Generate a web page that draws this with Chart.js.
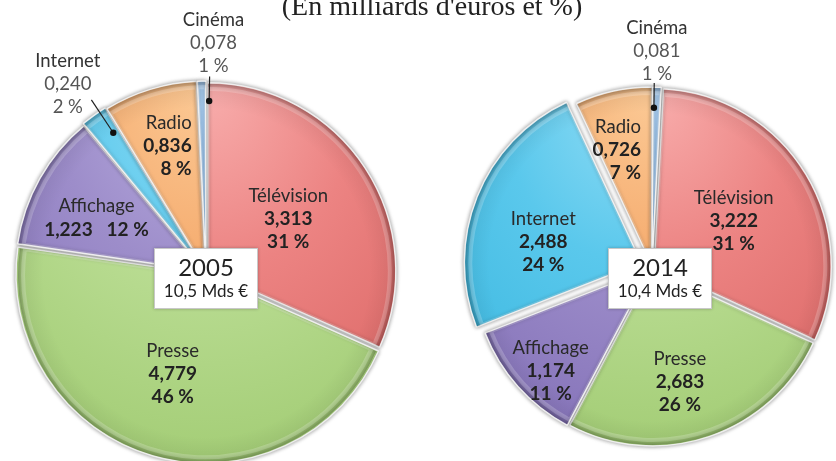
<!DOCTYPE html>
<html>
<head>
<meta charset="utf-8">
<script src="https://cdn.jsdelivr.net/npm/chart.js@4.4.0/dist/chart.umd.min.js"></script>
<style>
html, body { margin: 0; padding: 0; background: #fff; }
#wrap { position: relative; width: 836px; height: 461px; overflow: hidden; }
canvas { position: absolute; top: 0; }
.title { position: absolute; left: 0; width: 864px; top: -8px; text-align: center;
  font: 28px "Liberation Serif", serif; line-height: 28px; color: #222; z-index: 2; }
.box { position: absolute; top: 248px; width: 102px; height: 59px; background: #fff;
  border: 1px solid #c8c8c8; box-shadow: 0 0 3px rgba(0,0,0,0.25); font-family: Lato, sans-serif;
  color: #222; text-align: center; z-index: 2; }
.box .y { position: absolute; left: 0; right: 0; top: 4px; font-size: 24px; line-height: 28px; }
.box .t { position: absolute; left: 0; right: 0; top: 31px; font-size: 17px; line-height: 22px; }
</style>
</head>
<body>
<div id="wrap">
  <div class="title">(En milliards d'euros et %)</div>
  <canvas id="pie2005" width="412" height="544" style="left:0px"></canvas>
  <canvas id="pie2014" width="400" height="534" style="left:452px"></canvas>
  <div class="box" id="box2005" style="left:154px"><div class="y"></div><div class="t"></div></div>
  <div class="box" id="box2014" style="left:608px"><div class="y"></div><div class="t"></div></div>
</div>
<script>
var categories = ['Télévision', 'Presse', 'Affichage', 'Internet', 'Radio', 'Cinéma'];
var values2005 = [3.313, 4.779, 1.223, 0.240, 0.836, 0.078];
var percent2005 = [31, 46, 12, 2, 8, 1];
var values2014 = [3.222, 2.683, 1.174, 2.488, 0.726, 0.081];
var percent2014 = [31, 26, 11, 24, 7, 1];
var years = ['2005', '2014'];
var totals = ['10,5 Mds €', '10,4 Mds €'];

// base, light, dark
var colors = [
  ['#ec8382', '#f7aaa9', '#dc6866'],
  ['#b9dc92', '#d6edb9', '#a2cc74'],
  ['#9d8dca', '#b9ade0', '#8472b8'],
  ['#5ac8ec', '#90dcf5', '#3cb8e0'],
  ['#f5ab6e', '#fbc792', '#ec9852'],
  ['#7eb2e6', '#a8cdf1', '#5f9ad8']
];

// label placement along each slice's middle angle
var layout2005 = [
  { r: 0.52, turn: 0.3 },
  { r: 0.57, turn: 2 },
  { r: 0.65, turn: -3, inline: true },
  { r: 1.24, turn: -0.8, outside: true, dot: [0.89, 1.1, 1.9] },
  { r: 0.70, turn: 0, align: 'right' },
  { r: 1.22, turn: 3.2, outside: true, dot: [0.91, 1.04, 2.4] }
];
var layout2014 = [
  { r: 0.53, turn: 1.6 },
  { r: 0.67, turn: 5 },
  { r: 0.82, turn: -4 },
  { r: 0.63, turn: -9 },
  { r: 0.69, turn: -4.4, align: 'right' },
  { r: 1.22, turn: -0.3, outside: true, dot: [0.9, 1.04, -0.9] }
];

function fmt(v) { return v.toFixed(3).replace('.', ','); }

function fill(radius) {
  return function (c) {
    var col = colors[c.dataIndex];
    var a = c.chart.chartArea;
    if (!a) return col[0];
    var cx = (a.left + a.right) / 2, cy = (a.top + a.bottom) / 2;
    var g = c.chart.ctx.createRadialGradient(cx, cy - radius * 0.95, radius * 0.05, cx, cy - radius * 0.5, radius * 1.6);
    g.addColorStop(0, col[1]);
    g.addColorStop(0.45, col[0]);
    g.addColorStop(1, col[2]);
    return g;
  };
}

// same shift Chart.js applies to an offset arc
function arcShift(arc) {
  var off = (arc.options.offset || 0) / 4;
  var circ = arc.endAngle - arc.startAngle;
  var fix = 1 - Math.sin(Math.min(Math.PI, circ || 0));
  var d = off + off * fix;
  var h = (arc.startAngle + arc.endAngle) / 2;
  return [Math.cos(h) * d, Math.sin(h) * d];
}

function labelPlugin(values, percents, layout) {
  return {
    id: 'sliceLabels',
    beforeDatasetsDraw: function (chart) {
      var ctx = chart.ctx;
      ctx.save();
      ctx.shadowColor = 'rgba(0,0,0,0.4)';
      ctx.shadowBlur = 4;
    },
    afterDatasetsDraw: function (chart) {
      var ctx = chart.ctx;
      ctx.restore();
      var meta = chart.getDatasetMeta(0);
      // rim shading and bevel
      meta.data.forEach(function (arc) {
        var s = arcShift(arc);
        var R = arc.outerRadius;
        ctx.save();
        ctx.translate(s[0], s[1]);
        ctx.beginPath();
        ctx.moveTo(arc.x, arc.y);
        ctx.arc(arc.x, arc.y, R - 1, arc.startAngle, arc.endAngle);
        ctx.closePath();
        var g = ctx.createRadialGradient(arc.x, arc.y, R * 0.86, arc.x, arc.y, R);
        g.addColorStop(0, 'rgba(0,0,0,0)');
        g.addColorStop(0.7, 'rgba(0,0,0,0.05)');
        g.addColorStop(1, 'rgba(0,0,0,0.26)');
        ctx.fillStyle = g;
        ctx.fill();
        ctx.clip();
        ctx.strokeStyle = 'rgba(255,255,255,0.2)';
        ctx.lineWidth = 4;
        ctx.beginPath();
        ctx.moveTo(arc.x, arc.y);
        ctx.arc(arc.x, arc.y, R - 6, arc.startAngle, arc.endAngle);
        ctx.closePath();
        ctx.stroke();
        ctx.restore();
      });
      meta.data.forEach(function (arc, i) {
        var L = layout[i];
        var mid = (arc.startAngle + arc.endAngle) / 2;
        var R = arc.outerRadius;
        var ang = mid + L.turn * Math.PI / 180;
        var x = arc.x + Math.cos(ang) * R * L.r;
        var y = arc.y + Math.sin(ang) * R * L.r;
        var lines;
        if (L.outside) {
          lines = [[categories[i], 'normal', '#333'], [fmt(values[i]), 'normal', '#555'], [percents[i] + ' %', 'normal', '#555']];
        } else if (L.inline) {
          lines = [[categories[i], 'normal', '#2a2a2a'], [fmt(values[i]) + '   ' + percents[i] + ' %', 'bold', '#222']];
        } else {
          lines = [[categories[i], 'normal', '#2a2a2a'], [fmt(values[i]), 'bold', '#222'], [percents[i] + ' %', 'bold', '#222']];
        }
        var lh = 23;
        var top = y - (lines.length - 1) * lh / 2;
        var tx = x;
        ctx.save();
        ctx.textBaseline = 'middle';
        if (L.align === 'right') {
          ctx.textAlign = 'right';
          ctx.font = 'bold 19px Lato';
          tx = x + ctx.measureText(fmt(values[i])).width / 2;
        } else {
          ctx.textAlign = 'center';
        }
        lines.forEach(function (ln, k) {
          ctx.font = ln[1] === 'bold' ? 'bold 19px Lato' : '18.5px Lato';
          ctx.fillStyle = ln[2];
          ctx.fillText(ln[0], tx, top + k * lh);
        });
        if (L.dot) {
          var da = mid + L.dot[2] * Math.PI / 180;
          var x0 = arc.x + Math.cos(da) * R * L.dot[0], y0 = arc.y + Math.sin(da) * R * L.dot[0];
          var x1 = arc.x + Math.cos(da) * R * L.dot[1], y1 = arc.y + Math.sin(da) * R * L.dot[1];
          ctx.strokeStyle = '#222';
          ctx.lineWidth = 1.2;
          ctx.beginPath();
          ctx.moveTo(x1, y1);
          ctx.lineTo(x0, y0);
          ctx.stroke();
          ctx.fillStyle = '#111';
          ctx.beginPath();
          ctx.arc(x0, y0, 3.2, 0, Math.PI * 2);
          ctx.fill();
        }
        ctx.restore();
      });
    }
  };
}

function drawPie(id, values, percents, layout, radius, rotation, offsets) {
  new Chart(document.getElementById(id), {
    type: 'pie',
    data: {
      labels: categories,
      datasets: [{
        data: values,
        backgroundColor: fill(radius),
        borderColor: '#eeeeee',
        borderWidth: 1.5,
        offset: offsets,
        radius: radius,
        rotation: rotation
      }]
    },
    options: {
      responsive: false,
      animation: false,
      events: [],
      layout: { padding: 0 },
      plugins: { legend: { display: false }, tooltip: { enabled: false } }
    },
    plugins: [labelPlugin(values, percents, layout)]
  });
}

drawPie('pie2005', values2005, percent2005, layout2005, 188, 0, [8, 8, 8, 10, 8, 6]);
drawPie('pie2014', values2014, percent2014, layout2014, 177, 3, [10, 8, 8, 46, 8, 6]);

['box2005', 'box2014'].forEach(function (id, k) {
  var b = document.getElementById(id);
  b.querySelector('.y').textContent = years[k];
  b.querySelector('.t').textContent = totals[k];
});
</script>
</body>
</html>
